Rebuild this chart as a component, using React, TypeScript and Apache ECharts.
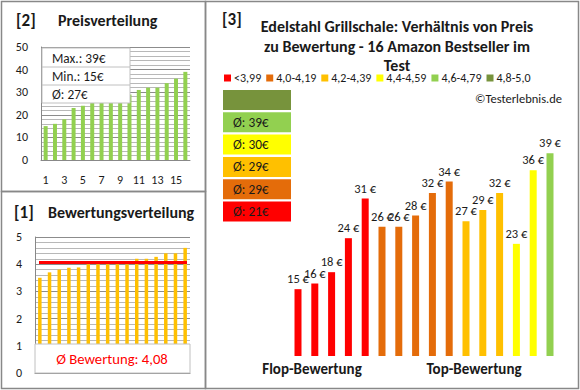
import React, { useEffect, useRef } from "react";
import * as echarts from "echarts";

const FONT = "Carlito, Lato, sans-serif";

// Product index (1..16) used by both distribution charts
const productIndex = ["1", "2", "3", "4", "5", "6", "7", "8", "9", "10", "11", "12", "13", "14", "15", "16"];
// [2] price distribution (sorted ascending)
const pricesSorted = [15, 16, 18, 23, 24, 26, 26, 27, 28, 29, 31, 32, 32, 34, 36, 39];
// [1] rating distribution (sorted ascending)
const ratingsSorted = [3.5, 3.7, 3.8, 3.87, 3.88, 4.0, 4.0, 4.0, 4.0, 4.0, 4.2, 4.2, 4.27, 4.4, 4.4, 4.6];
// [3] prices of the products in rating order (flop -> top)
const productPrices = [15, 16, 18, 24, 31, 26, 26, 28, 32, 34, 27, 29, 32, 23, 36, 39];
const avgRatingLabel = "4,08";
const avgRatingValue = 4.08;

const classNames = ["<3,99", "4,0-4,19", "4,2-4,39", "4,4-4,59", "4,6-4,79", "4,8-5,0"];
const classLower = [0, 4.0, 4.2, 4.4, 4.6, 4.8];
const classColors = ["#ff0000", "#e46c0a", "#ffc000", "#ffff00", "#92d050", "#77933c"];

function classOf(r: number): number {
  let c = 0;
  for (let i = 0; i < classLower.length; i++) if (r >= classLower[i] - 1e-9) c = i;
  return c;
}

export default function App() {
  const ref = useRef<HTMLDivElement>(null);
  useEffect(() => {
    if (!ref.current) return;
    const chart = echarts.init(ref.current, null, { renderer: "svg" });

    const maxP = Math.max(...pricesSorted);
    const minP = Math.min(...pricesSorted);
    const avgP = Math.round(pricesSorted.reduce((a, b) => a + b, 0) / pricesSorted.length);

    const classSeries = classNames.map((name, ci) => ({
      name,
      type: "bar",
      xAxisIndex: 2,
      yAxisIndex: 2,
      barWidth: 7,
      barGap: "-100%",
      itemStyle: { color: classColors[ci] },
      label: {
        show: true,
        position: "top",
        distance: 4,
        fontSize: 12.5,
        color: "#1a1a1a",
        fontFamily: FONT,
        formatter: (p: any) => `${p.value} €`,
      },
      data: productPrices.map((p, j) => (classOf(ratingsSorted[j]) === ci ? p : "-")),
    }));

    // class average boxes
    const boxes: any[] = [];
    classNames.forEach((_, ci) => {
      const vals = productPrices.filter((_, j) => classOf(ratingsSorted[j]) === ci);
      const top = 90 + (5 - ci) * 22.3;
      boxes.push({
        type: "rect",
        shape: { x: 223, y: top, width: 68, height: 20 },
        style: { fill: classColors[ci] },
        z: 100,
      });
      if (vals.length) {
        const avg = Math.round(vals.reduce((a, b) => a + b, 0) / vals.length);
        boxes.push({
          type: "text",
          x: 233,
          y: top + 10,
          style: { text: `Ø: ${avg}€`, fontSize: 13.3, fill: "#1a1a1a", fontFamily: FONT, verticalAlign: "middle" },
          z: 101,
        });
      }
    });

    const border = { fill: "none", stroke: "#888888", lineWidth: 1.5 };
    const titleStyle = { fontSize: 16, fontWeight: "bold", fill: "#1a1a1a", fontFamily: FONT, verticalAlign: "middle" };

    const option: any = {
      animation: false,
      textStyle: { fontFamily: FONT },
      legend: {
        data: classNames,
        left: 224,
        top: 72,
        padding: 0,
        icon: "rect",
        itemWidth: 7,
        itemHeight: 7,
        itemGap: 5,
        textStyle: { fontSize: 12, color: "#1a1a1a", fontFamily: FONT, padding: [0, 0, 0, -2] },
      },
      grid: [
        { left: 41, top: 47, width: 149, height: 113 },
        { left: 35, top: 237, width: 155, height: 136 },
        { left: 289.6, top: 100, width: 268.8, height: 256 },
      ],
      xAxis: [
        {
          gridIndex: 0,
          type: "category",
          data: productIndex,
          axisLine: { lineStyle: { color: "#888888" } },
          axisTick: { show: false },
          axisLabel: { interval: 1, margin: 14, fontSize: 12, color: "#1a1a1a", fontFamily: FONT },
        },
        {
          gridIndex: 1,
          type: "category",
          data: productIndex,
          axisLine: { lineStyle: { color: "#888888" } },
          axisTick: { show: false },
          axisLabel: { show: false },
        },
        { gridIndex: 2, type: "category", data: productIndex, show: false },
      ],
      yAxis: [
        {
          gridIndex: 0,
          type: "value",
          min: 0,
          max: 50,
          interval: 10,
          axisLine: { show: true, lineStyle: { color: "#888888" } },
          axisTick: { show: false },
          axisLabel: { fontSize: 12, color: "#1a1a1a", margin: 13, fontFamily: FONT },
          splitLine: { lineStyle: { color: "#8c8c8c" } },
          minorTick: { show: false, splitNumber: 5 },
          minorSplitLine: { show: true, lineStyle: { color: "#b8b8b8" } },
        },
        {
          gridIndex: 1,
          type: "value",
          min: 0,
          max: 5,
          interval: 1,
          axisLine: { show: true, lineStyle: { color: "#888888" } },
          axisTick: { show: false },
          axisLabel: { fontSize: 12, color: "#1a1a1a", margin: 13, fontFamily: FONT },
          splitLine: { lineStyle: { color: "#8c8c8c" } },
          minorTick: { show: false, splitNumber: 5 },
          minorSplitLine: { show: true, lineStyle: { color: "#b8b8b8" } },
        },
        { gridIndex: 2, type: "value", min: 3.2, max: 48.4, show: false },
      ],
      series: [
        {
          type: "bar",
          xAxisIndex: 0,
          yAxisIndex: 0,
          barWidth: 4,
          itemStyle: { color: "#92d050" },
          data: pricesSorted,
        },
        {
          type: "bar",
          xAxisIndex: 1,
          yAxisIndex: 1,
          barWidth: 3.5,
          itemStyle: { color: "#ffc000" },
          data: ratingsSorted,
          markLine: {
            silent: true,
            symbol: "none",
            label: { show: false },
            lineStyle: { color: "#ff0000", width: 3, type: "solid" },
            data: [[{ xAxis: 0, yAxis: avgRatingValue, x: 39 }, { xAxis: 15, yAxis: avgRatingValue, x: 187 }]],
          },
        },
        ...classSeries,
      ],
      graphic: [
        { type: "rect", shape: { x: 1.5, y: 1.5, width: 204, height: 190 }, style: border, z: 200 },
        { type: "rect", shape: { x: 1.5, y: 191.5, width: 204, height: 197 }, style: border, z: 200 },
        { type: "rect", shape: { x: 205.5, y: 1.5, width: 373, height: 387 }, style: border, z: 200 },
        // Panel [2]
        { type: "text", x: 16, y: 20, style: { ...titleStyle, text: "[2]", fontSize: 17 } },
        { type: "text", x: 58, y: 20, style: { ...titleStyle, text: "Preisverteilung" } },
        { type: "rect", shape: { x: 42, y: 48, width: 88, height: 55 }, style: { fill: "#ffffff", stroke: "#c0c0c0", lineWidth: 1 }, z: 100 },
        { type: "line", shape: { x1: 42, y1: 67, x2: 130, y2: 67 }, style: { stroke: "#c0c0c0", lineWidth: 1 }, z: 101 },
        { type: "line", shape: { x1: 42, y1: 85, x2: 130, y2: 85 }, style: { stroke: "#c0c0c0", lineWidth: 1 }, z: 101 },
        { type: "text", x: 52, y: 58, style: { text: `Max.: ${maxP}€`, fontSize: 13.3, fill: "#1a1a1a", fontFamily: FONT, verticalAlign: "middle" }, z: 102 },
        { type: "text", x: 52, y: 76.5, style: { text: `Min.: ${minP}€`, fontSize: 13.3, fill: "#1a1a1a", fontFamily: FONT, verticalAlign: "middle" }, z: 102 },
        { type: "text", x: 52, y: 94.5, style: { text: `Ø: ${avgP}€`, fontSize: 13.3, fill: "#1a1a1a", fontFamily: FONT, verticalAlign: "middle" }, z: 102 },
        // Panel [1]
        { type: "text", x: 14, y: 212, style: { ...titleStyle, text: "[1]", fontSize: 17 } },
        { type: "text", x: 48, y: 212, style: { ...titleStyle, text: "Bewertungsverteilung" } },
        { type: "rect", shape: { x: 35, y: 344, width: 155, height: 29 }, style: { fill: "#ffffff", stroke: "#c0c0c0", lineWidth: 1 }, z: 100 },
        { type: "text", x: 112, y: 359, style: { text: `Ø Bewertung: ${avgRatingLabel}`, fontSize: 14.7, fill: "#ff0000", fontFamily: FONT, align: "center", verticalAlign: "middle" }, z: 101 },
        // Panel [3]
        { type: "text", x: 222, y: 19, style: { ...titleStyle, text: "[3]", fontSize: 17 } },
        { type: "text", x: 397, y: 26, style: { ...titleStyle, text: "Edelstahl Grillschale: Verhältnis von Preis", align: "center" } },
        { type: "text", x: 397, y: 46, style: { ...titleStyle, text: "zu Bewertung - 16 Amazon Bestseller im", align: "center" } },
        { type: "text", x: 397, y: 65, style: { ...titleStyle, text: "Test", align: "center" } },
        { type: "text", x: 562, y: 98, style: { text: "©Testerlebnis.de", fontSize: 12.5, fill: "#1a1a1a", fontFamily: FONT, align: "right", verticalAlign: "middle" } },
        { type: "text", x: 312, y: 369, style: { ...titleStyle, text: "Flop-Bewertung", fontSize: 15, align: "center" } },
        { type: "text", x: 474, y: 369, style: { ...titleStyle, text: "Top-Bewertung", fontSize: 15, align: "center" } },
        ...boxes,
      ],
    };

    chart.setOption(option);
    return () => chart.dispose();
  }, []);

  return (
    <div
      ref={ref}
      style={{ position: "absolute", left: 0, top: 0, width: 580, height: 390, background: "#ffffff" }}
    />
  );
}
